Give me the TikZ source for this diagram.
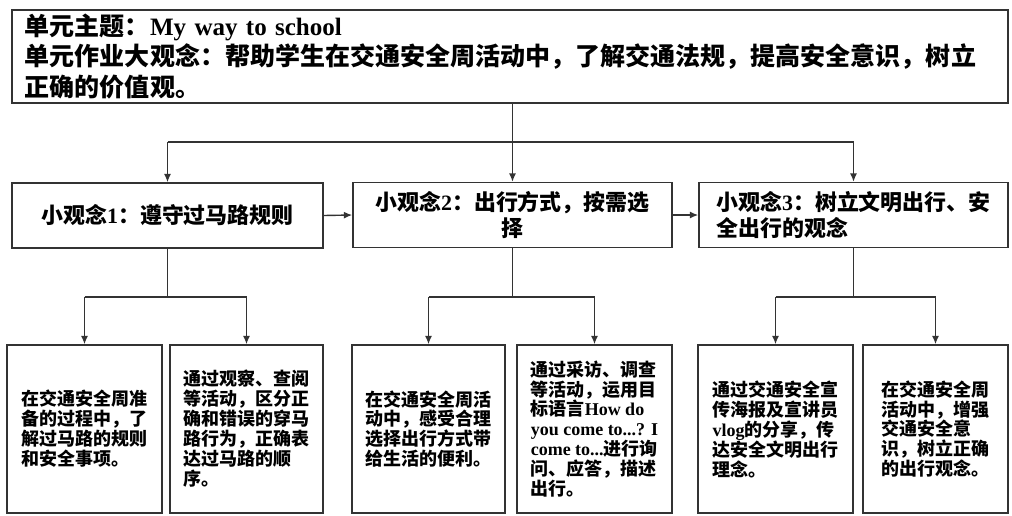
\documentclass[tikz,border=0pt]{standalone}
\usepackage{fontspec}
\setmainfont{Liberation Serif}
\newfontfamily\cjk{Noto Sans CJK SC}
\newcommand{\en}[1]{{\rmfamily #1}}
\usepackage{tikz}
\usetikzlibrary{arrows.meta}

\tikzset{
  box/.style={draw=black!80, line width=1pt, inner sep=0pt, fill=white},
  themebox/.style={box, minimum width=24.9cm, minimum height=2.325cm, text width=24.25cm, align=left,
    font=\cjk\bfseries\fontsize{17.8}{21.8}\selectfont},
  ideabox/.style={box, minimum height=1.625cm, font=\cjk\bfseries\fontsize{15.6}{18.2}\selectfont},
  detailbox/.style={box, minimum height=4.2cm, align=left, font=\cjk\bfseries\fontsize{12.8}{14.2}\selectfont},
  link/.style={draw=black!80, line width=1pt}
}

\begin{document}
\begin{tikzpicture}[x=0.025cm, y=-0.025cm, >={Latex[length=6pt,width=5pt]}]
\useasboundingbox (0,0) rectangle (1012,515);

\node (theme) at (510,56.5) [themebox] {单元主题：\en{My way to school}\\
单元作业大观念：帮助学生在交通安全周活动中，了解交通法规，提高安全意识，树立\\
正确的价值观。};

\node (idea1) at (167.5,215.5) [ideabox, minimum width=7.775cm, align=center] {小观念\en{1}：遵守过马路规则};
\node (idea2) at (512.5,215) [ideabox, minimum width=7.975cm, align=center] {小观念\en{2}：出行方式，按需选\\择};
\node (idea3) at (853.5,215) [ideabox, minimum width=7.725cm, align=left] {小观念\en{3}：树立文明出行、安\\全出行的观念};

\node (rule1) at (84.5,429) [detailbox, minimum width=3.875cm] {在交通安全周准\\备的过程中，了\\解过马路的规则\\和安全事项。};
\node (rule2) at (246.5,429) [detailbox, minimum width=3.825cm] {通过观察、查阅\\等活动，区分正\\确和错误的穿马\\路行为，正确表\\达过马路的顺\\序。};
\node (way1) at (428.5,429) [detailbox, minimum width=3.825cm] {在交通安全周活\\动中，感受合理\\选择出行方式带\\给生活的便利。};
\node (way2) at (594.5,429) [detailbox, minimum width=3.875cm] {通过采访、调查\\等活动，运用目\\标语言\en{How do}\\\en{you come to...? I}\\\en{come to...}进行询\\问、应答，描述\\出行。};
\node (civil1) at (775.5,429) [detailbox, minimum width=3.875cm] {通过交通安全宣\\传海报及宣讲员\\\en{vlog}的分享，传\\达安全文明出行\\理念。};
\node (civil2) at (935.5,429) [detailbox, minimum width=3.625cm] {在交通安全周\\活动中，增强\\交通安全意\\识，树立正确\\的出行观念。};

\coordinate (split) at (0,142);
\coordinate (fork) at (0,297);

% theme to the three ideas
\draw[link,->] (theme.south -| idea2.north) -- (idea2.north);
\draw[link] (split -| idea1.north) -- (split -| idea3.north);
\draw[link,->] (split -| idea1.north) -- (idea1.north);
\draw[link,->] (split -| idea3.north) -- (idea3.north);

\draw[link,->] (idea1.east) -- (idea2.west);
\draw[link,->] (idea2.east) -- (idea3.west);

% ideas to their tasks
\draw[link] (idea1.south) -- (fork -| idea1.south);
\draw[link] (fork -| rule1.north) -- (fork -| rule2.north);
\draw[link,->] (fork -| rule1.north) -- (rule1.north);
\draw[link,->] (fork -| rule2.north) -- (rule2.north);

\draw[link] (idea2.south) -- (fork -| idea2.south);
\draw[link] (fork -| way1.north) -- (fork -| way2.north);
\draw[link,->] (fork -| way1.north) -- (way1.north);
\draw[link,->] (fork -| way2.north) -- (way2.north);

\draw[link] (idea3.south) -- (fork -| idea3.south);
\draw[link] (fork -| civil1.north) -- (fork -| civil2.north);
\draw[link,->] (fork -| civil1.north) -- (civil1.north);
\draw[link,->] (fork -| civil2.north) -- (civil2.north);
\end{tikzpicture}
\end{document}
